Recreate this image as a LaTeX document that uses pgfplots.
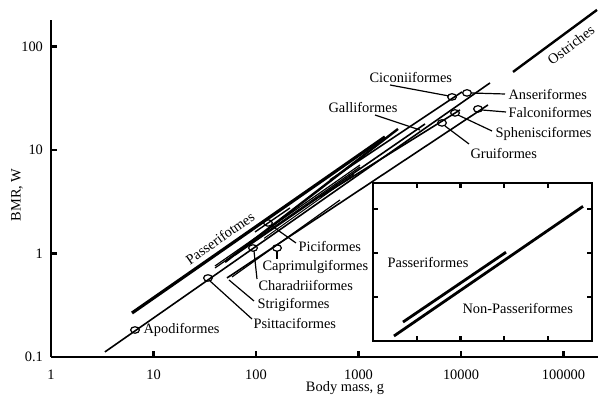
\documentclass[border=0pt]{standalone}
\usepackage{fontspec}
\setmainfont{Liberation Serif}
\usepackage{pgfplots}
\pgfplotsset{compat=1.18}
\begin{document}
\begin{tikzpicture}[font=\fontsize{7.2}{8.5}\selectfont]
\useasboundingbox (0,0) rectangle (303pt,198pt);
\begin{axis}[
  scale only axis, width=273.5pt, height=168.5pt,
  anchor=south west, at={(25.5pt,19.5pt)},
  xmode=log, ymode=log,
  xmin=1, xmax=217000, ymin=0.1, ymax=180,
  axis lines=left, axis line style={-, line width=1.1pt},
  clip=false,
  xtick={1,10,100,1000,10000,100000},
  xticklabels={1,10,100,1000,10000,100000},
  ytick={0.1,1,10,100},
  yticklabels={0.1,1,10,100},
  minor tick style={draw=none},
  tick align=inside, major tick length=3pt,
  tick style={line width=1.1pt, black},
  xticklabel style={yshift=-3pt},
  yticklabel style={xshift=-0.5pt},
]
% non-passerine long line (Apodiformes ...)
\addplot[line width=0.8pt] coordinates {(3.36,0.112) (19190,44.4)};
% Passeriformes
\addplot[line width=1.6pt] coordinates {(6.17,0.266) (1814,13.36)};
% other orders
\addplot[line width=1.2pt] coordinates {(49.85,0.828) (2429,15.96)};
\addplot[line width=0.6pt] coordinates {(39.8,0.724) (1034,6.85)};
\addplot[line width=0.6pt] coordinates {(39.8,0.757) (1034,7.16)};
\addplot[line width=0.5pt] coordinates {(120,1.40) (900,5.80)};
\addplot[line width=0.8pt] coordinates {(62.4,0.967) (4455,17.83)};
\addplot[line width=0.8pt] coordinates {(52.1,0.580) (18340,27.21)};
\addplot[line width=0.6pt] coordinates {(58.3,0.593) (659.9,3.287)};
\addplot[line width=0.8pt] coordinates {(527.2,5.13) (10230,36.34)};
\addplot[line width=0.8pt] coordinates {(421.1,3.515) (9777,24.35)};
\addplot[line width=0.7pt] coordinates {(97.8,1.613) (214.6,2.752)};
% Ostriches
\addplot[line width=1.2pt] coordinates {(32170,56.7) (212300,225.3)};
% circles
\addplot[only marks, mark=o, mark size=1.9pt, mark options={line width=0.6pt, xscale=1.15, yscale=0.85}]
 coordinates {(6.60,0.1824) (34.0,0.580) (93.5,1.130) (160.3,1.130) (130.9,1.971)
 (8172,32.52) (11440,35.54) (14650,24.90) (8741,22.78) (6526,18.24)};
\end{axis}
\begin{axis}[
  scale only axis, width=109.5pt, height=79pt,
  anchor=south west, at={(186.5pt,27.5pt)},
  xmin=0, xmax=5, ymin=0, ymax=3.6,
  xtick={1,2,3,4}, ytick={1,2,3},
  xticklabel=\empty, yticklabel=\empty,
  tick align=inside, tick pos=both, major tick length=2.5pt,
  axis line style={line width=1.1pt}, tick style={line width=1.1pt, black},
  axis background/.style={fill=white},
]
\addplot[line width=1.4pt] coordinates {(0.685,0.432) (3.037,2.023)};
\addplot[line width=1.4pt] coordinates {(0.479,0.114) (4.795,3.068)};
\end{axis}
\begin{scope}[x=0.5pt,y=-0.5pt,yshift=198pt,line width=0.6pt]
\draw (210,281) -- (252,319);
\draw (229,280) -- (254,301);
\draw (254,251) -- (257,279);
\draw (277,251) -- (277,259);
\draw (272,226) -- (296,243);
\draw (375,115) -- (420,130);
\draw (390,85) -- (449,96);
\draw (471,93) -- (505,94);
\draw (482,110) -- (506,112);
\draw (458,115) -- (492,131);
\draw (445,126) -- (469,144);
\begin{scope}[every node/.style={anchor=west,inner sep=0pt}]
\node at (143,330) {Apodiformes};
\node at (253,324) {Psittaciformes};
\node at (257,305) {Strigiformes};
\node at (258,286) {Charadriiformes};
\node at (262,267) {Caprimulgiformes};
\node at (298,247) {Piciformes};
\node at (328,108) {Galliformes};
\node at (369,78) {Ciconiiformes};
\node at (508,95) {Anseriformes};
\node at (508,113) {Falconiformes};
\node at (495,134) {Sphenisciformes};
\node at (470,154) {Gruiformes};
\node at (387,263) {Passeriformes};
\node at (462,309) {Non-Passeriformes};
\end{scope}
\node[rotate=35,inner sep=0pt] at (220,238) {Passerifotmes};
\node[rotate=37,inner sep=0pt] at (571,45) {Ostriches};
\node[inner sep=0pt] at (345,388) {Body mass, g};
\node[rotate=90,inner sep=0pt] at (17,195) {BMR, W};
\end{scope}
\end{tikzpicture}
\end{document}
